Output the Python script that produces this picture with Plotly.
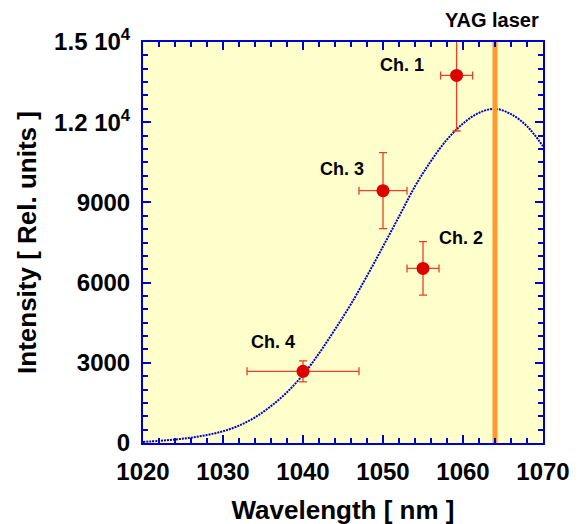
import plotly.graph_objects as go

# Curve
curve_wl = [1020, 1022, 1024, 1026, 1028, 1030, 1032, 1034, 1036, 1038, 1040, 1042, 1044,
            1046, 1048, 1050, 1052, 1054, 1056, 1058, 1060, 1062, 1064, 1066, 1068, 1070]
curve_int = [40, 80, 130, 200, 300, 440, 650, 960, 1380, 1900, 2550, 3350, 4250,
             5200, 6250, 7350, 8470, 9600, 10550, 11350, 11950, 12350, 12500, 12300, 11850, 11100]

# Channel measurements
channels = ["Ch. 1", "Ch. 2", "Ch. 3", "Ch. 4"]
ch_wl = [1059.2, 1055.0, 1050.0, 1040.0]
ch_wl_err = [2.0, 2.0, 3.0, 7.0]
ch_int = [13750, 6530, 9440, 2680]
ch_int_err = [2080, 1000, 1420, 390]

yag_wl = 1064
yag_label = "YAG laser"

y_tickvals = [0, 3000, 6000, 9000, 12000, 15000]
y_ticktext = ["0", "3000", "6000", "9000", "1.2 10<sup>4</sup>", "1.5 10<sup>4</sup>"]
x_tickvals = [1020, 1030, 1040, 1050, 1060, 1070]

FONT = "Liberation Sans"
BLUE = "#0000CC"

fig = go.Figure()

fig.add_trace(go.Scatter(
    x=curve_wl, y=curve_int, mode="lines", line_shape="spline",
    line=dict(color=BLUE, width=2, dash="2px,1px"), hoverinfo="skip", showlegend=False))

fig.add_trace(go.Scatter(
    x=[yag_wl, yag_wl], y=[0, 15000], mode="lines",
    line=dict(color="#FF9A2E", width=5), showlegend=False))

fig.add_trace(go.Scatter(
    x=ch_wl, y=ch_int, mode="markers",
    marker=dict(color="#DD0000", size=13),
    error_x=dict(type="data", array=ch_wl_err, color="#E8402A", thickness=1.3, width=4),
    error_y=dict(type="data", array=ch_int_err, color="#E8402A", thickness=1.3, width=4),
    showlegend=False))

# labels
label_pos = {"Ch. 1": (1052.4, 14150), "Ch. 2": (1059.7, 7650), "Ch. 3": (1044.9, 10250), "Ch. 4": (1036.3, 3760)}
for name in channels:
    lx, ly = label_pos[name]
    fig.add_annotation(x=lx, y=ly, text="<b>%s</b>" % name, showarrow=False,
                       font=dict(family=FONT, size=18, color="black"))

fig.add_annotation(x=1063.6, y=1.055, yref="paper", text="<b>%s</b>" % yag_label,
                   showarrow=False, yanchor="middle", font=dict(family=FONT, size=20, color="black"))

axis_common = dict(
    showline=True, linecolor=BLUE, linewidth=2, mirror="ticks",
    ticks="inside", tickcolor=BLUE, tickwidth=2, ticklen=8,
    showgrid=False, zeroline=False, ticklabelstandoff=6,
    tickfont=dict(family=FONT, size=24, color="black"),
)

fig.update_xaxes(
    range=[1020, 1070], tickvals=x_tickvals,
    ticktext=["<b>%d</b>" % v for v in x_tickvals],
    minor=dict(ticks="inside", tickcolor=BLUE, ticklen=5, tickwidth=2, dtick=2),
    title=dict(text="<b>Wavelength [ nm ]</b>", font=dict(family=FONT, size=26, color="black"), standoff=17),
    **axis_common)
fig.update_yaxes(
    range=[0, 15000], tickvals=y_tickvals,
    ticktext=["<b>%s</b>" % t for t in y_ticktext],
    minor=dict(ticks="inside", tickcolor=BLUE, ticklen=5, tickwidth=2, dtick=500),
    title=dict(text="<b>Intensity [ Rel. units ]</b>", font=dict(family=FONT, size=26, color="black"), standoff=10),
    **axis_common)

fig.update_layout(
    width=581, height=524,
    margin=dict(l=135, r=46, t=34, b=89, autoexpand=False),
    plot_bgcolor="#FFFFCC", paper_bgcolor="white",
)

fig.write_html("out.html")
